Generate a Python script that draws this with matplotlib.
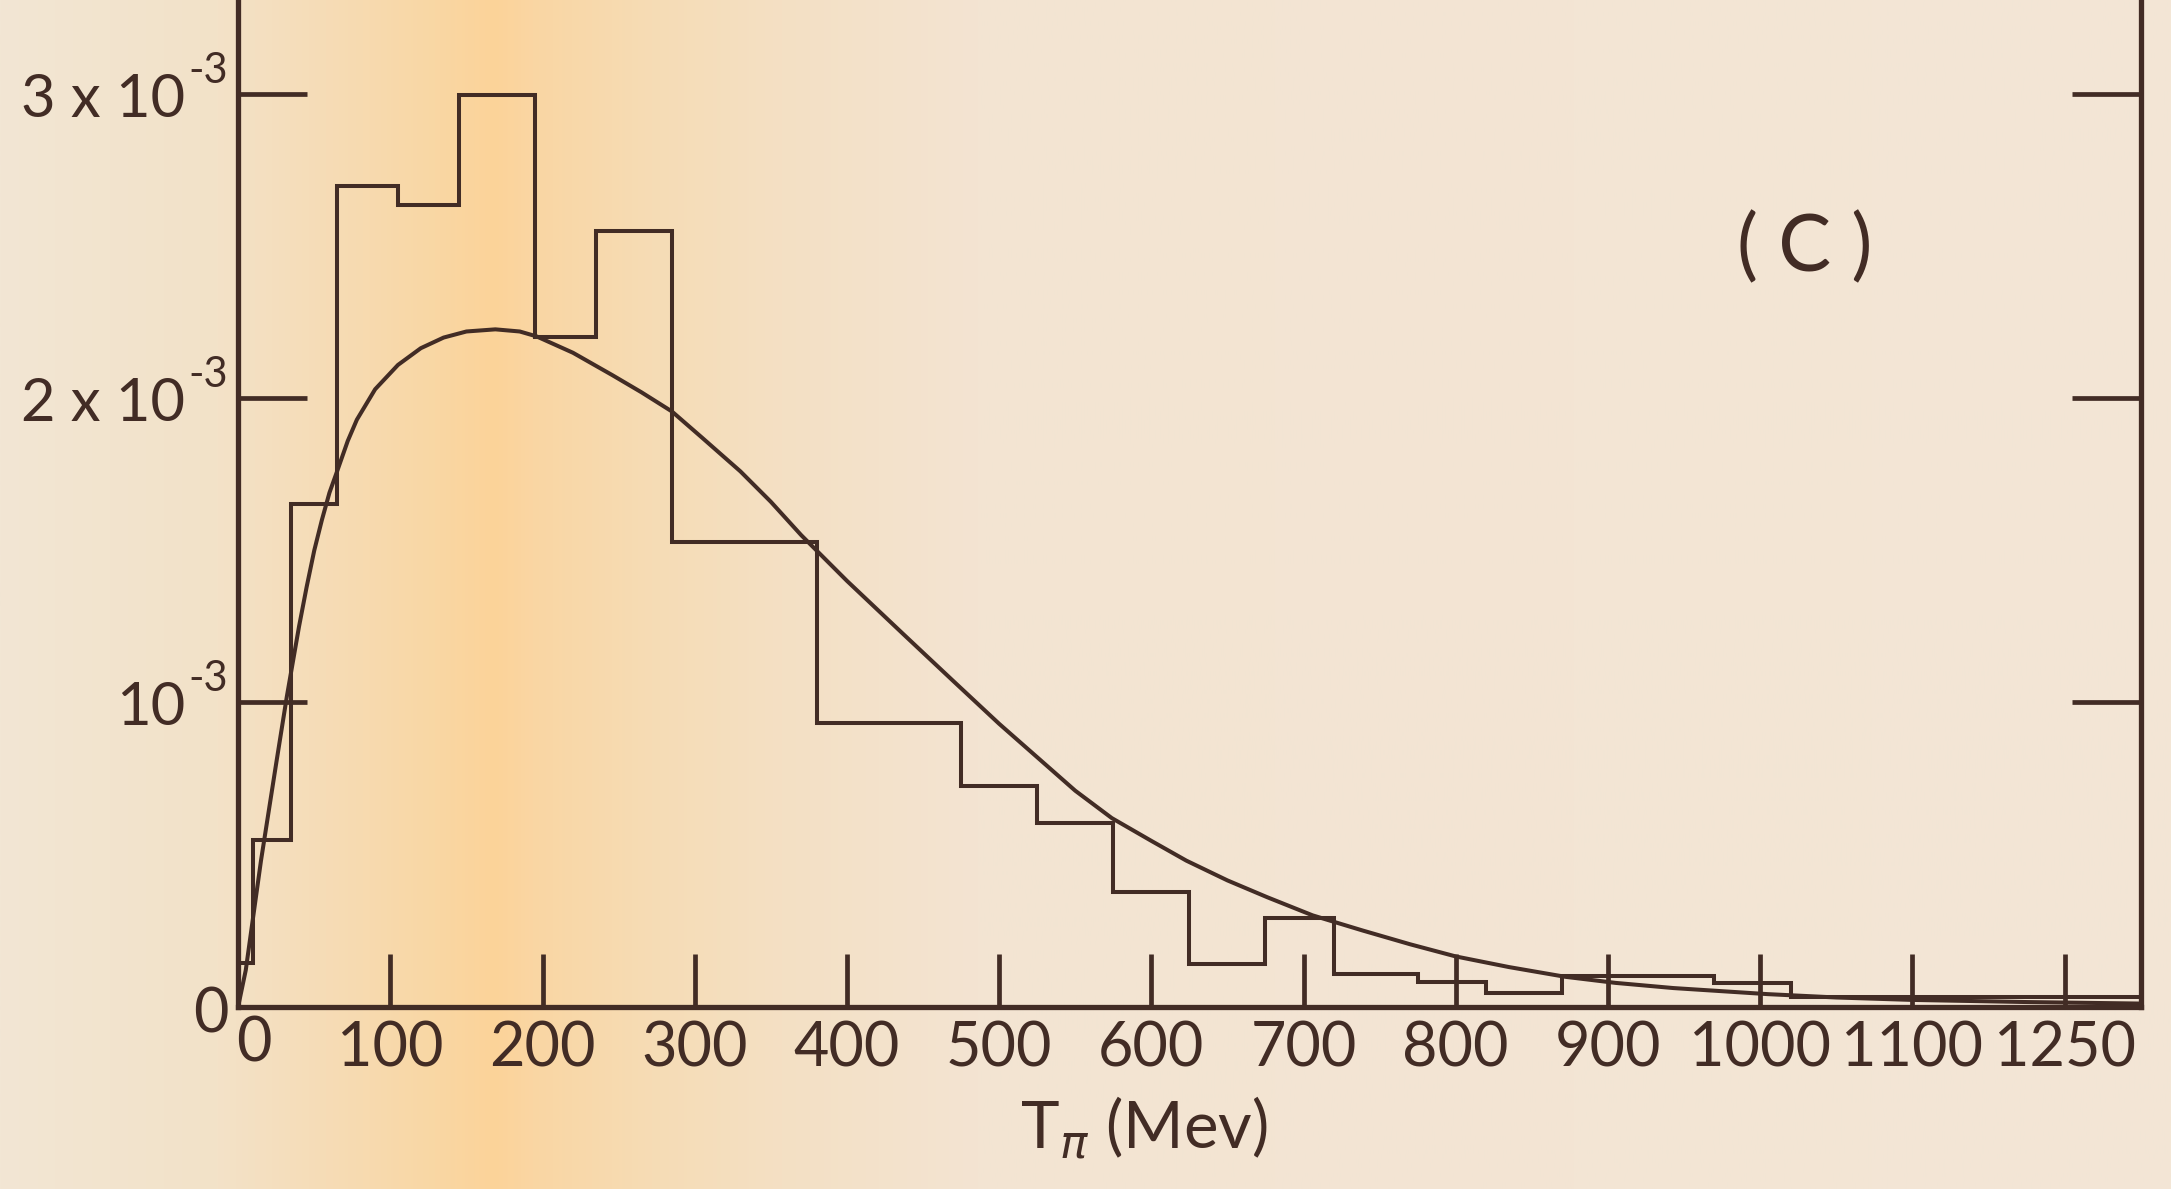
import numpy as np
import matplotlib.pyplot as plt
from matplotlib.colors import to_rgb

# histogram: bin edges in MeV, heights in units of 1e-3
edges = [0, 10, 35, 65, 105, 145, 195, 235, 285, 380, 475, 525, 575, 625,
         675, 720, 775, 820, 870, 970, 1020, 1250]
heights = [0.143, 0.548, 1.652, 2.697, 2.636, 2.997, 2.203, 2.550, 1.529,
           0.933, 0.724, 0.605, 0.378, 0.141, 0.291, 0.107, 0.082, 0.046,
           0.100, 0.077, 0.032]

# smooth curve, read point by point
curve_t = [0, 5, 15, 25, 32, 40, 45, 50, 55, 60, 65, 72, 78, 90, 105, 120,
           135, 150, 169, 185, 196, 220, 246, 265, 285, 305, 330, 350, 370,
           400, 437, 470, 500, 525, 550, 574, 600, 623, 650, 676, 706, 739,
           770, 800, 835, 872, 905, 943, 1005, 1050, 1100, 1175, 1250]
curve_v = [0.0, 0.12, 0.48, 0.80, 1.02, 1.25, 1.38, 1.50, 1.60, 1.69, 1.76,
           1.86, 1.93, 2.03, 2.11, 2.165, 2.20, 2.22, 2.227, 2.22, 2.204,
           2.15, 2.076, 2.02, 1.957, 1.87, 1.76, 1.66, 1.55, 1.40, 1.225,
           1.07, 0.93, 0.82, 0.71, 0.62, 0.545, 0.48, 0.415, 0.36, 0.30,
           0.25, 0.205, 0.165, 0.13, 0.098, 0.078, 0.061, 0.041, 0.030,
           0.022, 0.015, 0.010]

xticks = [0, 100, 200, 300, 400, 500, 600, 700, 800, 900, 1000, 1100, 1200]
xlabels = ["0", "100", "200", "300", "400", "500", "600", "700", "800",
           "900", "1000", "1100", "1250"]
yticks = [0, 1, 2, 3]
ylabels = ["0", "10", "2 x 10", "3 x 10"]

ink = "#422c25"
plt.rcParams['font.family'] = ['Lato', 'DejaVu Sans']

fig = plt.figure(figsize=(21.71, 11.89), dpi=100)

# paper background with the orange fold stripe
bg = fig.add_axes([0, 0, 1, 1], zorder=-10)
stops = [(0.0, "#f2e6d4"), (0.1, "#f3e2c8"), (0.15, "#f6dcb6"),
         (0.2, "#f9d7a4"), (0.228, "#fcd399"), (0.245, "#fad6a3"),
         (0.3, "#f6dcb5"), (0.36, "#f4e0c4"), (0.45, "#f3e4d2"),
         (1.0, "#f3e6d6")]
xs = np.linspace(0, 1, 800)
cols = np.array([[np.interp(x, [s[0] for s in stops],
                            [to_rgb(s[1])[k] for s in stops]) for k in range(3)]
                 for x in xs])
bg.imshow(cols[np.newaxis, :, :], aspect='auto', extent=[0, 1, 0, 1])
bg.axis('off')

ax = fig.add_axes([0.1097, 0.1534, 0.8763, 0.8466])
ax.patch.set_alpha(0)

ax.stairs(heights, edges, color=ink, linewidth=2.9, baseline=0)
ax.plot(curve_t, curve_v, color=ink, linewidth=2.9)

ax.set_xlim(0, 1250)
ax.set_ylim(0, 3.31)

for side in ['left', 'bottom', 'right']:
    ax.spines[side].set_linewidth(3.8)
    ax.spines[side].set_color(ink)
ax.spines['top'].set_visible(False)

ax.set_xticks(xticks)
ax.set_xticklabels(xlabels, fontsize=44, color=ink)
ax.tick_params(axis='x', direction='in', length=38, width=3.4, color=ink, pad=10)
ax.set_yticks(yticks)
ax.set_yticklabels([])
ax.tick_params(axis='y', direction='in', length=50, width=3.4, color=ink,
               right=True, labelleft=False)
ax.get_xticklabels()[0].set_visible(False)

# y labels with the raised -3
for v, lab in zip(yticks, ylabels):
    if v == 0:
        ax.annotate("0", xy=(0, 0), xycoords=('axes fraction', 'data'),
                    xytext=(-7, -6), textcoords='offset points',
                    ha='right', va='center', fontsize=44, color=ink)
        continue
    ax.annotate(lab, xy=(0, v), xycoords=('axes fraction', 'data'),
                xytext=(-38, -4), textcoords='offset points',
                ha='right', va='center', fontsize=43, color=ink)
    ax.annotate("-3", xy=(0, v), xycoords=('axes fraction', 'data'),
                xytext=(-36, 17), textcoords='offset points',
                ha='left', va='center', fontsize=30, color=ink)

# x origin label
ax.annotate("0", xy=(10, 0), xycoords='data', xytext=(0, -27),
            textcoords='offset points', ha='center', va='center',
            fontsize=44, color=ink)

fig.text(0.527, 0.051, r"T$_{\pi}$ (Mev)", ha='center', va='center',
         fontsize=47, color=ink)
fig.text(0.8314, 0.7906, "( C )", ha='center', va='center', fontsize=57,
         color=ink)

fig.savefig("out.png", dpi=100)
